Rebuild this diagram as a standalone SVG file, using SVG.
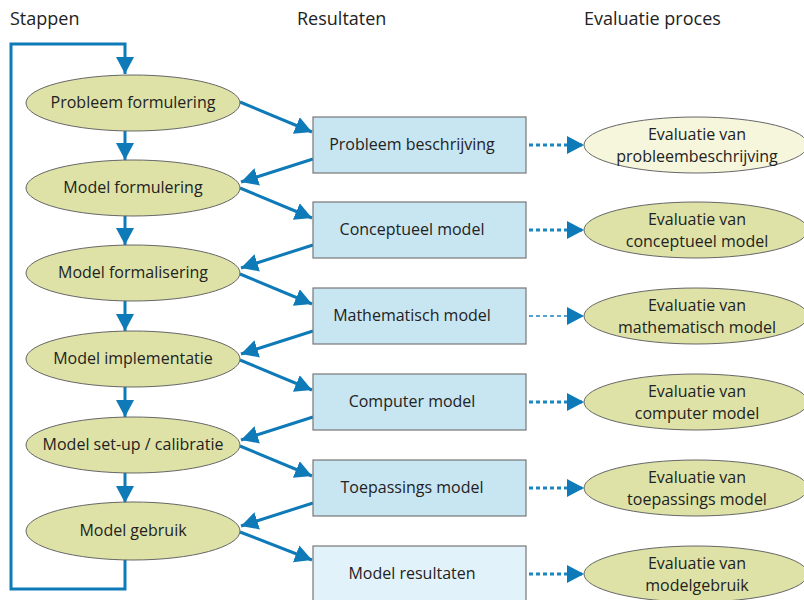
<svg xmlns="http://www.w3.org/2000/svg" width="804" height="600" viewBox="0 0 804 600">
<style>
text{font-family:"Open Sans","Noto Sans",sans-serif;fill:#222;}
.h{font-size:18px;}
.t{font-size:16px;text-anchor:middle;}
.se{fill:#dee2a7;stroke:#666;stroke-width:1;}
.ee{fill:#dee2a7;stroke:#666;stroke-width:1;}
.bx{fill:#c8e5f2;stroke:#777;stroke-width:1.2;}
.ln{stroke:#0f7ab8;stroke-width:3;fill:none;}
.dt{stroke:#1a86c0;stroke-width:3;fill:none;stroke-dasharray:4 3;}
</style>
<defs>
<marker id="ah" markerUnits="userSpaceOnUse" markerWidth="18" markerHeight="20" refX="17" refY="9" orient="auto">
<path d="M0,0 L17,9 L0,18 z" fill="#0f7ab8"/>
</marker>
</defs>
<rect width="804" height="600" fill="#fff"/>
<text class="h" x="10" y="25">Stappen</text>
<text class="h" x="297" y="25">Resultaten</text>
<text class="h" x="584" y="25">Evaluatie proces</text>

<g id="connectors">
<polyline class="ln" points="125,560 125,589 11,589 11,44 125,44 125,74" marker-end="url(#ah)"/>
<line class="ln" x1="125" y1="130" x2="125" y2="160" marker-end="url(#ah)"/>
<line class="ln" x1="125" y1="216" x2="125" y2="245" marker-end="url(#ah)"/>
<line class="ln" x1="125" y1="301" x2="125" y2="331" marker-end="url(#ah)"/>
<line class="ln" x1="125" y1="387" x2="125" y2="417" marker-end="url(#ah)"/>
<line class="ln" x1="125" y1="473" x2="125" y2="503" marker-end="url(#ah)"/>

<line class="ln" x1="240" y1="102" x2="312" y2="132" marker-end="url(#ah)"/>
<line class="ln" x1="313" y1="159" x2="241" y2="182" marker-end="url(#ah)"/>
<line class="ln" x1="240" y1="188" x2="312" y2="218" marker-end="url(#ah)"/>
<line class="ln" x1="313" y1="245" x2="241" y2="268" marker-end="url(#ah)"/>
<line class="ln" x1="240" y1="274" x2="312" y2="304" marker-end="url(#ah)"/>
<line class="ln" x1="313" y1="331" x2="241" y2="354" marker-end="url(#ah)"/>
<line class="ln" x1="240" y1="360" x2="312" y2="390" marker-end="url(#ah)"/>
<line class="ln" x1="313" y1="417" x2="241" y2="440" marker-end="url(#ah)"/>
<line class="ln" x1="240" y1="446" x2="312" y2="476" marker-end="url(#ah)"/>
<line class="ln" x1="313" y1="503" x2="241" y2="526" marker-end="url(#ah)"/>
<line class="ln" x1="240" y1="532" x2="312" y2="560" marker-end="url(#ah)"/>

<line class="dt" x1="529" y1="145" x2="584" y2="145" marker-end="url(#ah)"/>
<line class="dt" x1="529" y1="230" x2="584" y2="230" marker-end="url(#ah)"/>
<line class="dt" x1="529" y1="316" x2="584" y2="316" marker-end="url(#ah)" style="stroke-width:1.5"/>
<line class="dt" x1="529" y1="402" x2="584" y2="402" marker-end="url(#ah)"/>
<line class="dt" x1="529" y1="488" x2="584" y2="488" marker-end="url(#ah)"/>
<line class="dt" x1="529" y1="574" x2="584" y2="574" marker-end="url(#ah)"/>
</g>

<g id="s1"><ellipse class="se" cx="133" cy="103" rx="107" ry="28"/><text class="t" x="133" y="108">Probleem formulering</text></g>
<g id="s2"><ellipse class="se" cx="133" cy="188" rx="107" ry="28"/><text class="t" x="133" y="193">Model formulering</text></g>
<g id="s3"><ellipse class="se" cx="133" cy="273" rx="107" ry="28"/><text class="t" x="133" y="278">Model formalisering</text></g>
<g id="s4"><ellipse class="se" cx="133" cy="359" rx="107" ry="28"/><text class="t" x="133" y="364">Model implementatie</text></g>
<g id="s5"><ellipse class="se" cx="133" cy="445" rx="107" ry="28"/><text class="t" x="133" y="450">Model set-up / calibratie</text></g>
<g id="s6"><ellipse class="se" cx="133" cy="531" rx="107" ry="29"/><text class="t" x="133" y="536">Model gebruik</text></g>

<g id="r1"><rect class="bx" x="313" y="117" width="213" height="56"/><text class="t" x="412" y="150">Probleem beschrijving</text></g>
<g id="r2"><rect class="bx" x="313" y="202" width="213" height="56"/><text class="t" x="412" y="235">Conceptueel model</text></g>
<g id="r3"><rect class="bx" x="313" y="288" width="213" height="56"/><text class="t" x="412" y="321">Mathematisch model</text></g>
<g id="r4"><rect class="bx" x="313" y="374" width="213" height="56"/><text class="t" x="412" y="407">Computer model</text></g>
<g id="r5"><rect class="bx" x="313" y="460" width="213" height="56"/><text class="t" x="412" y="493">Toepassings model</text></g>
<g id="r6"><rect class="bx" x="313" y="546" width="213" height="56" style="fill:#e2f2fa"/><text class="t" x="412" y="579">Model resultaten</text></g>

<g id="e1"><ellipse class="ee" cx="696" cy="145" rx="112" ry="28" style="fill:#f6f6dc"/><text class="t" x="697" y="140">Evaluatie van</text><text class="t" x="697" y="162">probleembeschrijving</text></g>
<g id="e2"><ellipse class="ee" cx="696" cy="230" rx="112" ry="28"/><text class="t" x="697" y="225">Evaluatie van</text><text class="t" x="697" y="247">conceptueel model</text></g>
<g id="e3"><ellipse class="ee" cx="696" cy="316" rx="112" ry="28"/><text class="t" x="697" y="311">Evaluatie van</text><text class="t" x="697" y="333">mathematisch model</text></g>
<g id="e4"><ellipse class="ee" cx="696" cy="402" rx="112" ry="28"/><text class="t" x="697" y="397">Evaluatie van</text><text class="t" x="697" y="419">computer model</text></g>
<g id="e5"><ellipse class="ee" cx="696" cy="488" rx="112" ry="28"/><text class="t" x="697" y="483">Evaluatie van</text><text class="t" x="697" y="505">toepassings model</text></g>
<g id="e6"><ellipse class="ee" cx="696" cy="574" rx="112" ry="28"/><text class="t" x="697" y="569">Evaluatie van</text><text class="t" x="697" y="591">modelgebruik</text></g>
</svg>
